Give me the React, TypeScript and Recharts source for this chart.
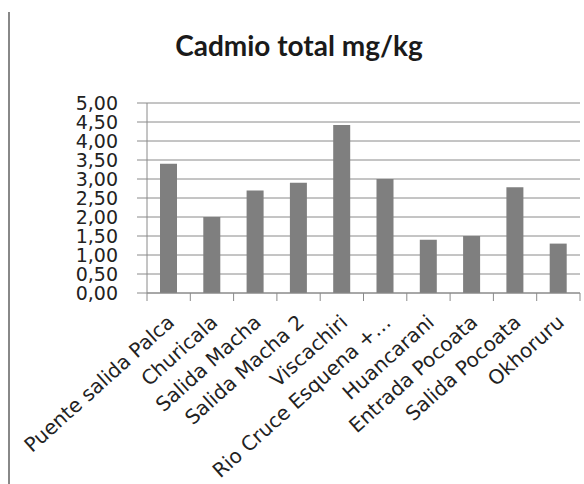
import React from 'react';
import { BarChart, Bar, XAxis, YAxis, CartesianGrid } from 'recharts';

const categories = [
  'Puente salida Palca',
  'Churicala',
  'Salida Macha',
  'Salida Macha 2',
  'Viscachiri',
  'Rio Cruce Esquena +…',
  'Huancarani',
  'Entrada Pocoata',
  'Salida Pocoata',
  'Okhoruru',
];
const cadmio = [3.4, 2.0, 2.7, 2.9, 4.42, 3.0, 1.4, 1.5, 2.78, 1.3];
const yTicks = [0, 0.5, 1, 1.5, 2, 2.5, 3, 3.5, 4, 4.5, 5];

const data = categories.map((name, i) => ({ name, value: cadmio[i] }));

const LINE = '#8a8a8a';
const PLOT_BOTTOM = 293;

const fmt = (v: number) => v.toFixed(2).replace('.', ',');

const CategoryTick = (props: any) => {
  const { x, payload, index } = props;
  const half = payload && payload.offset ? payload.offset : 21.65;
  const tx = x + 7;
  const ty = PLOT_BOTTOM + 31;
  return (
    <g>
      <line x1={x - half} x2={x - half} y1={PLOT_BOTTOM} y2={PLOT_BOTTOM + 8} stroke={LINE} />
      {index === categories.length - 1 && (
        <line x1={x + half} x2={x + half} y1={PLOT_BOTTOM} y2={PLOT_BOTTOM + 8} stroke={LINE} />
      )}
      <text
        x={tx}
        y={ty}
        transform={`rotate(-42, ${tx}, ${ty})`}
        textAnchor="end"
        fontFamily="DejaVu Sans"
        fontSize={20}
        fill="#222"
      >
        {payload.value}
      </text>
    </g>
  );
};

export default function App() {
  return (
    <div style={{ position: 'absolute', left: 0, top: 0, width: 584, height: 484, background: '#fff' }}>
      <div
        style={{
          position: 'absolute',
          left: 8,
          top: 12,
          width: 2,
          height: 472,
          background: '#888',
        }}
      />
      <div
        style={{
          position: 'absolute',
          left: 0,
          top: 31,
          width: 598,
          textAlign: 'center',
          fontFamily: 'Lato',
          fontWeight: 700,
          fontSize: 28,
          lineHeight: '28px',
          color: '#1a1a1a',
        }}
      >
        Cadmio total mg/kg
      </div>
      <BarChart
        width={584}
        height={484}
        data={data}
        margin={{ top: 103, right: 4, left: 0, bottom: 0 }}
        barSize={17}
      >
        <CartesianGrid vertical={false} stroke={LINE} />
        <XAxis
          dataKey="name"
          height={191}
          interval={0}
          tickLine={false}
          axisLine={{ stroke: LINE }}
          tick={<CategoryTick />}
        />
        <YAxis
          width={147}
          domain={[0, 5]}
          ticks={yTicks}
          interval={0}
          tickFormatter={fmt}
          tickSize={10}
          tickMargin={19}
          tickLine={{ stroke: LINE }}
          axisLine={{ stroke: LINE }}
          tick={{ fontFamily: 'DejaVu Sans', fontSize: 19, fill: '#222' }}
        />
        <Bar dataKey="value" fill="#7f7f7f" isAnimationActive={false} />
      </BarChart>
    </div>
  );
}
